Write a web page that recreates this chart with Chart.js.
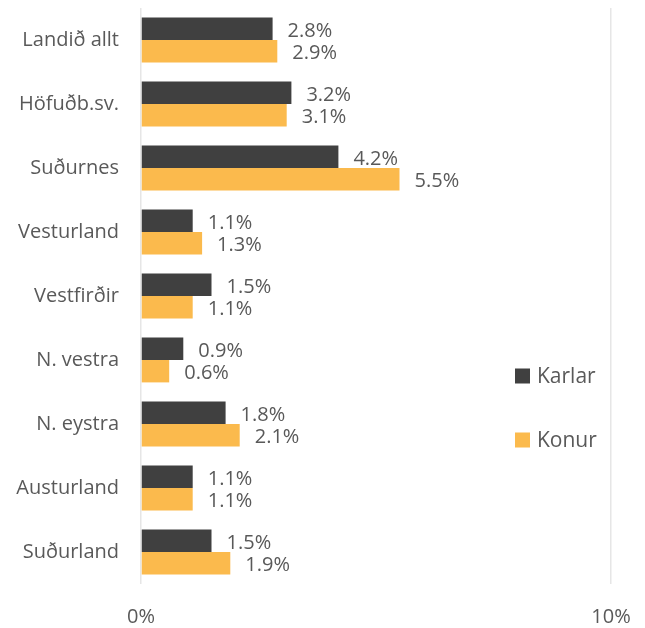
<!DOCTYPE html>
<html>
<head>
<meta charset="utf-8">
<script src="https://cdn.jsdelivr.net/npm/chart.js@4"></script>
<style>
  html, body { margin: 0; padding: 0; background: #fff; }
  #wrap { width: 645px; height: 628px; }
</style>
</head>
<body>
<div id="wrap"><canvas id="myChart" width="645" height="628"></canvas></div>
<script>
const regions = ['Landið allt', 'Höfuðb.sv.', 'Suðurnes', 'Vesturland', 'Vestfirðir', 'N. vestra', 'N. eystra', 'Austurland', 'Suðurland'];
const karlar = [2.8, 3.2, 4.2, 1.1, 1.5, 0.9, 1.8, 1.1, 1.5];
const konur = [2.9, 3.1, 5.5, 1.3, 1.1, 0.6, 2.1, 1.1, 1.9];
const xTicks = [0, 10];

const FONT = "'Open Sans', 'Noto Sans', sans-serif";
const GREY = '#595959';

// value labels to the right of each bar
const barLabels = {
  id: 'barLabels',
  afterDatasetsDraw(chart) {
    const ctx = chart.ctx;
    ctx.save();
    ctx.font = '20px ' + FONT;
    ctx.fillStyle = GREY;
    ctx.textAlign = 'left';
    ctx.textBaseline = 'middle';
    chart.data.datasets.forEach((ds, i) => {
      chart.getDatasetMeta(i).data.forEach((bar, j) => {
        ctx.fillText(ds.data[j].toFixed(1) + '%', bar.x + 15, bar.y + 2);
      });
    });
    ctx.restore();
  }
};

// legend drawn inside the plot on the right
const sideLegend = {
  id: 'sideLegend',
  afterDraw(chart) {
    const ctx = chart.ctx;
    ctx.save();
    ctx.font = '21px ' + FONT;
    ctx.textBaseline = 'middle';
    const rows = [376, 440];
    chart.data.datasets.forEach((ds, i) => {
      const y = rows[i];
      ctx.fillStyle = ds.backgroundColor;
      ctx.fillRect(515, y - 7.5, 15, 15);
      ctx.fillStyle = GREY;
      ctx.fillText(ds.label, 537, y + 1);
    });
    ctx.restore();
  }
};

const ctx = document.getElementById('myChart').getContext('2d');
new Chart(ctx, {
  type: 'bar',
  data: {
    labels: regions,
    datasets: [
      { label: 'Karlar', data: karlar, backgroundColor: '#404040' },
      { label: 'Konur', data: konur, backgroundColor: '#FBBA4D' }
    ]
  },
  options: {
    indexAxis: 'y',
    responsive: false,
    animation: false,
    devicePixelRatio: 1,
    layout: { padding: { top: 8, right: 34, left: 0, bottom: 0 } },
    datasets: { bar: { categoryPercentage: 0.7, barPercentage: 1 } },
    plugins: { legend: { display: false }, tooltip: { enabled: false } },
    scales: {
      x: {
        min: 0,
        max: 10,
        afterBuildTicks(scale) { scale.ticks = xTicks.map(v => ({ value: v })); },
        afterFit(scale) { scale.height = 44; scale.paddingLeft = 0; scale.paddingRight = 0; },
        ticks: {
          callback: v => v + '%',
          color: GREY,
          font: { family: FONT, size: 20 },
          padding: 21,
          maxRotation: 0
        },
        grid: { color: '#E6E6E6', lineWidth: 1.5, drawTicks: false },
        border: { display: false }
      },
      y: {
        afterFit(scale) { scale.width = 141; scale.paddingTop = 0; scale.paddingBottom = 0; },
        ticks: { color: GREY, font: { family: FONT, size: 20 }, padding: 14 },
        grid: { display: false },
        border: { display: false }
      }
    }
  },
  plugins: [barLabels, sideLegend]
});
</script>
</body>
</html>
